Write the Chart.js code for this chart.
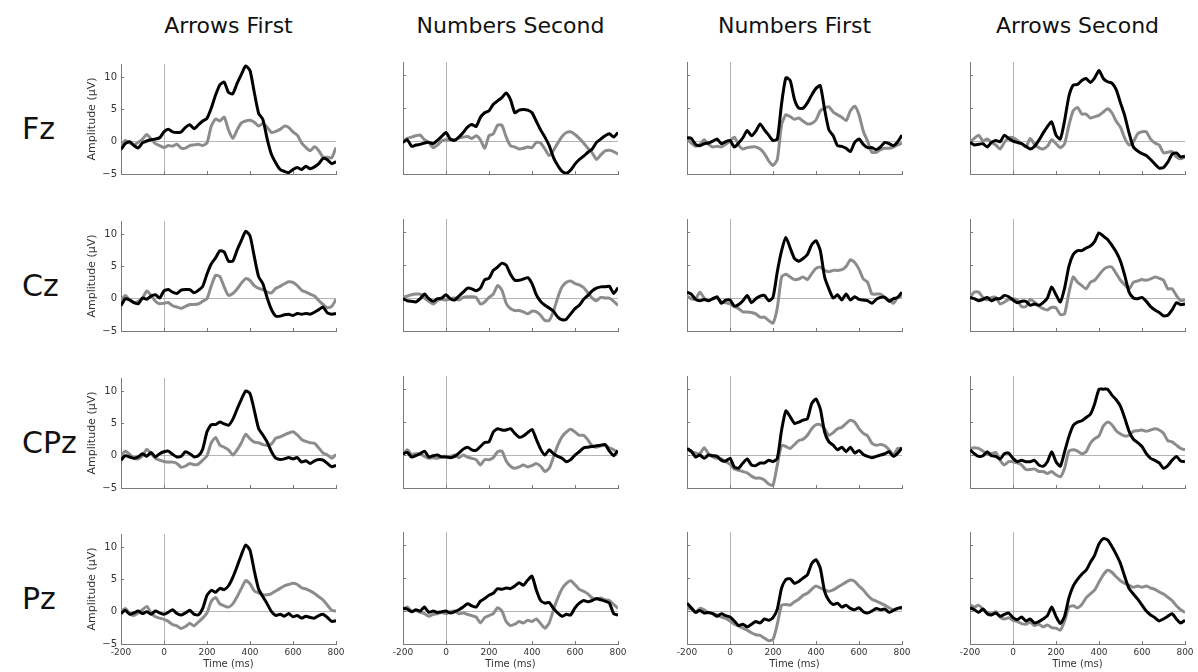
<!DOCTYPE html>
<html>
<head>
<meta charset="utf-8">
<script src="https://cdn.jsdelivr.net/npm/chart.js@4.4.1/dist/chart.umd.min.js"></script>
<style>
  html, body { margin: 0; padding: 0; background: #ffffff; }
  body { width: 1198px; height: 672px; position: relative; overflow: hidden; font-family: "DejaVu Sans", sans-serif; }
  .colTitle { position: absolute; top: 25px; font-size: 22px; color: #111; transform: translate(-50%, -50%); white-space: nowrap; }
  .rowTitle { position: absolute; left: 22px; font-size: 30px; color: #111; transform: translateY(-50%); white-space: nowrap; }
  canvas { position: absolute; }
</style>
</head>
<body>
<script>
// Time axis (ms) and tick values
const timeMs = [-200,-180,-160,-140,-120,-100,-80,-60,-40,-20,0,20,40,60,80,100,120,140,160,180,200,220,240,260,280,300,320,340,360,380,400,420,440,460,480,500,520,540,560,580,600,620,640,660,680,700,720,740,760,780,800];
const timeTicks = [-200, 0, 200, 400, 600, 800];
const ampTicks = [-5, 0, 5, 10];

const blockNames = ['Arrows First', 'Numbers Second', 'Numbers First', 'Arrows Second'];
const electrodes = ['Fz', 'Cz', 'CPz', 'Pz'];

// Fz
const fzArrowsFirstDark = [-1.2,-0.3,0,-0.6,-1.0,-0.2,0.1,0.3,0.4,0.6, 1.5,1.9,1.5,1.4,1.5,2.2,2.6,2.0,2.6,3.2, 3.6,5.2,7.2,8.8,9.2,7.6,7.4,9.0,10.4,11.7, 11.0,7.6,4.4,3.4,0.4,-2.0,-3.3,-4.3,-4.6,-4.8, -4.3,-4.0,-4.3,-3.8,-4.2,-3.9,-3.4,-2.6,-2.8,-3.4, -3.1];
const fzArrowsFirstLight = [-0.9,0.2,-0.2,-0.5,-0.1,0.4,1.1,0.4,-0.3,-0.6, -0.9,-0.6,-0.7,-0.4,-1.0,-1.0,-0.6,-0.5,-0.4,-0.6, -0.2,2.4,3.5,3.2,3.8,1.8,0.5,1.8,2.9,3.2, 3.3,3.0,2.4,2.8,2.2,1.4,1.6,1.9,2.4,2.2, 1.5,1.0,-0.2,-0.9,-1.4,-0.8,-1.4,-2.4,-2.4,-2.5, -0.9];
const fzNumbersSecondDark = [-0.2,0.2,-0.8,-0.6,-0.5,-0.3,-0.2,-0.4,0.1,0.7, 1.3,0.3,0.1,0.6,1.3,2.1,2.5,2.2,3.6,4.3, 4.6,5.6,6.1,6.6,7.3,6.3,4.3,4.7,4.8,4.7, 4.3,3.0,1.7,0.6,-0.7,-2.5,-3.7,-4.6,-4.9,-4.4, -3.5,-2.8,-2.3,-1.7,-1.2,-0.2,0.3,0.8,1.1,0.6, 1.3];
const fzNumbersSecondLight = [-0.1,0.4,0.6,0.8,0.9,0.2,-0.2,-1.0,-0.6,0.0, 0.2,0.2,0.2,0.5,0.6,0.7,0.4,0.8,0.2,-1.1, 0.8,1.1,2.4,2.4,0.6,-0.7,-0.9,-1.2,-1.1,-0.9, -1.0,-0.2,-0.3,-1.2,-2.2,-1.4,-0.3,0.7,1.3,1.4, 1.0,0.4,-0.3,-1.1,-1.8,-2.8,-2.1,-1.5,-1.4,-1.6, -2.0];
const fzNumbersFirstDark = [0.5,0.4,-0.5,-0.7,-0.4,-0.3,0.0,0.3,-0.4,-0.1, 0.1,-0.9,-0.3,0.5,1.6,0.8,1.5,2.6,1.7,0.9, 0.1,0.3,5.7,9.6,9.2,6.3,5.0,5.0,5.8,7.0, 8.0,8.4,4.8,1.7,0.8,-0.7,-0.8,-1.1,-1.6,-0.2, 0.3,-0.5,-1.0,-1.0,-1.3,-0.9,-0.2,-0.4,-0.7,-0.1, 0.9];
const fzNumbersFirstLight = [0.3,-0.3,-0.8,-0.5,0.2,-0.5,-0.9,-0.8,-0.9,-0.5, 0.0,0.6,-0.6,-1.2,-1.0,-0.9,-0.9,-1.2,-1.9,-3.0, -3.7,-2.8,2.5,4.0,3.7,3.3,3.5,3.0,2.6,2.7, 3.2,4.6,5.0,5.2,4.4,4.0,3.6,3.1,4.6,5.3, 4.0,1.5,0.0,-1.7,-1.7,-1.3,-1.1,-1.1,-0.9,-0.6, -0.3];
const fzArrowsSecondDark = [-0.2,-0.6,-0.5,-0.4,-0.9,-0.2,0.1,-0.1,0.9,0.4, 0.0,-0.2,-0.4,-0.8,-1.2,-0.8,0.1,1.2,2.2,2.9, 0.9,0.3,3.1,6.8,8.5,8.6,9.2,9.5,8.9,9.6, 10.7,9.5,9.0,8.8,7.8,5.8,3.8,1.2,-0.9,-1.5, -1.9,-2.2,-2.8,-3.5,-4.1,-4.0,-3.2,-2.0,-1.8,-2.4, -2.3];
const fzArrowsSecondLight = [-0.1,0.4,0.9,0.0,0.3,-0.2,-0.6,-1.2,-0.2,0.5, 0.5,0.1,-0.4,-0.9,0.4,-0.5,-1.0,-1.2,-0.8,0.2, -0.4,-1.0,-0.4,2.4,4.6,5.1,4.1,4.1,3.5,3.7, 3.9,4.4,4.9,4.3,3.0,2.1,0.4,-0.6,-0.1,1.1, 1.4,1.4,0.3,-0.3,-0.6,-1.8,-1.7,-1.6,-2.4,-2.7, -2.4];

// Cz
const czArrowsFirstDark = [-1.1,0.0,-0.2,-0.6,-0.8,0.1,-0.1,0.4,0.6,0.1, 1.2,1.4,1.0,0.8,1.3,1.4,1.4,0.9,1.3,1.9, 3.8,5.4,6.3,7.4,7.2,5.8,5.8,7.5,9.0,10.4, 9.7,6.5,3.4,2.3,0.1,-1.7,-2.7,-2.7,-2.5,-2.4, -2.6,-2.3,-2.4,-2.3,-2.4,-2.1,-1.7,-1.3,-2.2,-2.4, -2.3];
const czArrowsFirstLight = [-0.3,0.5,-0.2,-0.6,-0.4,0.1,1.2,0.5,-0.4,-0.8, -0.7,-0.6,-1.1,-1.3,-1.5,-1.2,-0.9,-0.9,-0.8,-0.4, 0.0,2.0,3.6,3.4,1.8,0.5,0.8,1.5,2.4,3.1, 2.8,2.0,1.6,1.4,1.0,0.9,1.6,1.9,2.3,2.6, 2.5,2.0,1.3,1.0,0.7,0.4,-0.3,-0.9,-1.4,-1.2, -0.1];
const czNumbersSecondDark = [-0.1,-0.4,-0.5,-0.6,-0.1,0.6,-0.1,-0.5,-0.1,0.0, 0.5,-0.1,-0.3,0.3,0.9,1.5,1.4,1.1,1.5,2.8, 3.0,4.2,4.7,5.3,5.0,3.6,2.7,2.7,2.9,3.1, 2.2,0.5,-0.5,-1.1,-1.5,-2.0,-2.9,-3.3,-3.2,-2.4, -1.6,-1.1,-0.2,0.4,1.1,1.5,1.7,1.7,1.8,0.7, 1.6];
const czNumbersSecondLight = [0.1,0.3,0.5,0.6,0.6,0.0,-0.5,-0.9,-0.4,-0.2, -0.3,-0.1,0.0,-0.3,0.1,0.2,0.2,0.1,-0.9,-0.6, 0.1,0.6,1.9,1.2,-0.8,-1.6,-1.9,-1.9,-2.1,-2.4, -2.0,-2.1,-2.6,-3.4,-3.4,-2.0,0.1,1.7,2.4,2.6, 2.2,2.0,1.6,0.8,0.0,-0.4,0.1,0.0,0.0,-0.5, -1.1];
const czNumbersFirstDark = [0.9,0.6,-0.2,-0.4,-0.2,-0.4,-0.1,0.2,-0.8,-0.3, -0.3,-1.2,-1.0,-0.4,0.4,-0.7,-0.1,0.3,0.4,-0.4, 0.1,4.0,7.2,9.2,7.6,6.0,5.6,6.0,6.6,8.1, 8.7,7.2,3.2,1.4,0.0,0.5,-0.3,0.6,-0.3,0.2, -0.2,-0.3,-0.4,-0.8,-0.2,0.1,0.1,-0.5,-0.1,0.1, 0.9];
const czNumbersFirstLight = [0.3,-0.1,-0.1,0.9,0.0,-0.4,-0.1,0.0,-0.6,-0.7, -0.9,-1.3,-1.6,-2.1,-2.1,-2.2,-2.4,-2.9,-2.9,-3.4, -3.8,-1.5,3.2,3.6,3.2,2.8,2.9,3.2,2.8,3.7, 4.5,4.7,4.2,4.0,4.2,4.2,4.3,4.8,5.8,5.4, 4.4,2.9,2.4,0.6,0.6,0.6,0.1,-0.3,-0.8,0.1, 0.3];
const czArrowsSecondDark = [0.1,-0.1,-0.4,-0.2,0.1,-0.4,-0.1,-0.1,0.4,0.2, -0.3,-0.7,-0.5,-0.5,-1.1,-0.9,-1.1,-0.7,0.0,1.7, 0.5,-0.6,1.5,4.8,6.6,7.2,7.2,7.6,7.9,8.6, 9.9,9.4,8.9,8.0,7.0,5.6,3.4,0.9,0.0,-0.1, 0.1,-0.5,-1.3,-1.8,-2.2,-2.7,-2.6,-1.8,-0.7,-1.0, -0.9];
const czArrowsSecondLight = [0.1,0.9,0.9,0.1,-0.3,0.1,0.1,-0.9,-0.6,-0.2, -0.1,-0.3,-1.3,-1.3,-0.2,-0.6,-1.2,-1.6,-1.8,-1.4, -1.5,-2.5,-2.4,0.8,3.2,2.4,1.9,1.4,2.4,2.7, 3.5,4.3,4.7,4.7,3.7,2.7,2.0,1.4,2.4,2.6, 2.8,2.7,2.9,3.2,3.0,2.7,1.4,1.4,0.4,-0.4, -0.3];

// CPz
const cpzArrowsFirstDark = [-0.7,0.0,-0.2,-0.4,-0.2,0.3,-0.1,0.5,-0.2,0.3, 0.6,0.7,0.2,-0.2,-0.1,0.6,0.3,-0.2,0.0,1.0, 3.7,4.8,4.8,5.2,4.9,4.7,5.6,7.2,8.7,10.0, 9.6,7.0,4.2,3.2,2.1,0.6,-0.4,-0.6,-0.5,-0.3, -0.5,-0.3,-1.0,-0.8,-1.2,-0.8,-0.6,-0.7,-1.2,-1.7, -1.5];
const cpzArrowsFirstLight = [0.0,0.7,0.2,-0.4,-0.5,0.0,1.0,0.3,-0.4,-0.7, -0.9,-1.0,-1.0,-1.2,-1.8,-1.6,-1.2,-1.4,-1.3,-0.7, 0.0,2.0,2.8,1.6,1.3,0.9,0.1,0.9,2.0,3.3, 2.6,2.1,2.0,1.7,1.6,1.8,2.7,2.9,3.2,3.5, 3.7,3.2,2.5,2.2,2.0,1.9,1.2,0.4,0.1,-0.4, 0.2];
const cpzNumbersSecondDark = [0.2,0.4,-0.3,-0.1,0.2,0.6,-0.3,-0.1,0.0,-0.3, -0.3,-0.4,-0.2,0.3,0.9,1.2,0.8,0.7,1.3,1.9, 2.0,3.5,4.0,3.8,3.8,4.0,3.3,2.7,2.9,3.4, 3.9,2.4,0.9,0.0,0.8,0.2,-0.2,-0.5,-1.0,-0.7, 0.0,0.5,1.1,1.2,1.3,1.4,1.5,1.6,0.6,-0.1, 0.7];
const cpzNumbersSecondLight = [0.1,0.8,0.1,0.2,0.2,-0.2,-0.5,-0.4,-0.5,-0.2, -0.2,-0.2,0.0,-0.4,0.0,-0.3,-0.5,-0.7,-1.5,-0.7, -0.7,-0.4,0.5,0.6,-0.9,-1.7,-2.0,-1.8,-1.5,-1.8, -1.6,-1.3,-1.7,-2.5,-2.0,-0.3,1.5,2.8,3.5,3.9, 3.5,3.0,3.0,2.3,1.4,1.2,1.4,1.5,1.1,0.8, 0.3];
const cpzNumbersFirstDark = [1.0,0.6,-0.3,0.0,-0.5,0.0,-0.1,-0.2,-0.8,-0.9, -0.5,-1.8,-2.0,-1.2,-0.6,-1.5,-1.6,-1.2,-1.2,-0.8, -1.0,-0.5,3.8,6.7,5.8,4.8,5.0,5.3,5.5,7.8, 8.5,7.0,3.5,2.0,1.5,0.8,1.2,0.5,1.2,0.3, 0.7,0.1,-0.2,-0.4,-0.2,0.0,0.2,0.5,-0.2,0.3, 1.1];
const cpzNumbersFirstLight = [0.9,0.5,0.3,0.2,1.1,0.2,-0.3,-0.5,-0.6,-1.0, -1.4,-2.1,-2.3,-2.5,-2.7,-3.2,-3.5,-3.5,-3.8,-4.4, -4.6,-1.5,1.5,1.3,1.0,1.6,2.2,2.4,3.0,4.0, 4.6,4.6,4.0,3.0,3.4,4.0,4.2,4.8,5.3,5.0, 4.0,3.3,2.9,1.8,1.5,1.6,1.4,0.8,0.0,1.0, 1.0];
const cpzArrowsSecondDark = [0.8,0.2,-0.2,-0.1,0.5,-0.1,-0.2,-0.6,0.2,0.3, -0.5,-1.0,-0.8,-1.0,-1.0,-0.8,-1.5,-1.7,-1.0,0.5, -1.0,-1.7,0.5,2.8,4.5,5.0,5.2,5.7,6.2,7.8, 10.0,10.0,10.0,9.1,8.4,7.4,5.6,3.6,2.4,1.9, 1.3,0.2,-0.5,-0.8,-1.2,-2.0,-1.6,-0.8,-0.2,-0.9, -1.0];
const cpzArrowsSecondLight = [1.0,1.1,1.0,0.6,0.1,0.2,0.4,-0.8,-1.5,-1.0, -1.0,-1.2,-1.5,-2.2,-2.2,-2.1,-2.5,-2.5,-2.8,-2.5, -3.0,-3.3,-2.0,0.6,0.8,0.6,0.2,0.5,1.8,2.5, 2.9,4.4,5.0,4.6,3.7,3.2,2.9,3.0,3.6,3.7, 3.8,3.6,3.8,4.0,3.8,3.3,2.2,2.0,1.5,1.0, 0.8];

// Pz
const pzArrowsFirstDark = [-0.3,0.2,-0.4,-0.2,0.1,-0.3,0.0,-0.4,0.1,-0.2, -0.4,-0.1,0.3,-0.3,-0.5,-0.2,0.2,-0.4,-0.5,0.5, 2.5,3.3,3.0,3.6,3.4,4.0,5.3,7.0,8.8,10.3, 9.5,6.3,3.5,2.3,1.2,0.0,-0.6,-0.4,-0.7,-0.3, -0.8,-0.6,-1.0,-0.7,-0.9,-1.0,-0.6,-0.4,-0.9,-1.5, -1.4];
const pzArrowsFirstLight = [0.0,0.5,-0.3,-0.6,-0.2,0.3,0.8,-0.2,-0.8,-1.0, -1.2,-1.5,-2.0,-2.2,-2.6,-2.3,-1.8,-2.2,-1.6,-1.0, -0.2,1.6,2.2,1.2,0.9,0.7,1.2,2.3,3.6,4.8, 4.3,3.2,2.9,2.6,2.6,2.8,3.2,3.6,4.0,4.2, 4.4,4.2,3.7,3.5,3.2,2.8,2.3,1.8,1.0,0.2, 0.1];
const pzNumbersSecondDark = [0.4,0.3,-0.1,0.2,0.0,0.6,-0.2,0.0,-0.2,-0.1, 0.0,-0.3,-0.1,0.2,0.6,1.1,0.8,0.6,1.5,1.9, 2.4,2.7,3.4,3.3,3.5,3.4,3.8,4.3,3.9,4.7, 5.3,3.2,1.6,1.2,1.3,0.4,-0.3,-0.8,-0.5,-0.6, 0.5,1.2,1.6,1.4,1.6,1.9,1.7,1.5,1.2,-0.4, -0.6];
const pzNumbersSecondLight = [0.2,0.6,0.0,0.1,-0.2,-0.4,-0.8,-0.5,-0.4,-0.2, -0.4,-0.1,0.0,-0.4,-0.3,-0.5,-0.7,-0.9,-1.8,-1.0, -0.7,-0.4,0.5,0.0,-1.6,-2.2,-2.0,-1.6,-1.8,-1.4, -1.6,-1.2,-1.9,-2.6,-1.8,0.2,2.0,3.4,4.2,4.6, 4.0,3.3,3.0,2.6,2.0,1.8,2.0,1.7,1.6,1.0, 0.4];
const pzNumbersFirstDark = [1.2,0.5,-0.2,0.1,-0.3,-0.2,-0.4,-0.8,-0.4,-0.7, -0.9,-1.5,-2.2,-2.0,-2.4,-2.0,-1.6,-1.8,-1.2,-1.4, -1.0,0.3,3.5,4.8,4.9,4.2,4.5,5.0,5.5,7.2, 7.8,6.5,3.0,1.6,1.0,1.2,0.6,0.9,0.4,0.2, 0.5,-0.1,-0.3,0.0,0.4,0.2,0.3,-0.2,0.1,0.4, 0.6];
const pzNumbersFirstLight = [0.5,0.3,-0.2,0.4,0.2,-0.3,-0.4,-0.6,-0.9,-1.1, -1.5,-2.0,-2.3,-2.6,-2.9,-3.3,-3.6,-3.7,-4.1,-4.5, -4.3,-2.0,0.9,1.0,0.9,1.4,1.8,2.4,2.7,3.3, 3.8,3.5,3.2,3.0,3.2,3.6,4.0,4.4,4.7,4.5, 3.8,3.2,2.4,1.8,1.5,1.2,0.9,0.5,0.2,0.4, 0.4];
const pzArrowsSecondDark = [0.5,0.2,-0.2,0.3,-0.4,-0.6,-0.3,-0.8,-0.5,-0.3, -1.0,-1.3,-0.9,-1.5,-1.2,-1.8,-1.6,-1.2,-0.7,0.6, -0.8,-1.9,-0.8,2.0,3.8,4.8,5.6,6.2,7.4,8.5, 10.2,11.0,10.8,9.8,8.6,7.2,5.2,3.4,2.6,1.8, 0.9,0.0,-0.6,-1.0,-1.5,-1.2,-0.8,-0.4,-1.2,-1.8, -1.4];
const pzArrowsSecondLight = [1.0,0.6,0.9,0.3,-0.2,-0.4,-0.1,-0.9,-1.2,-1.0, -1.4,-1.6,-1.9,-2.0,-1.7,-2.2,-2.0,-2.4,-2.1,-2.5, -2.6,-2.9,-1.5,0.6,0.8,0.5,1.0,2.0,2.6,3.2, 4.4,5.5,6.2,5.9,5.2,4.6,4.2,3.9,3.6,3.8, 3.6,3.8,3.5,3.3,2.9,2.6,2.1,1.6,0.8,0.2, -0.2];

// Panel grid: [row][col] -> [dark series, light series]
const panelSeries = [
  [[fzArrowsFirstDark, fzArrowsFirstLight], [fzNumbersSecondDark, fzNumbersSecondLight], [fzNumbersFirstDark, fzNumbersFirstLight], [fzArrowsSecondDark, fzArrowsSecondLight]],
  [[czArrowsFirstDark, czArrowsFirstLight], [czNumbersSecondDark, czNumbersSecondLight], [czNumbersFirstDark, czNumbersFirstLight], [czArrowsSecondDark, czArrowsSecondLight]],
  [[cpzArrowsFirstDark, cpzArrowsFirstLight], [cpzNumbersSecondDark, cpzNumbersSecondLight], [cpzNumbersFirstDark, cpzNumbersFirstLight], [cpzArrowsSecondDark, cpzArrowsSecondLight]],
  [[pzArrowsFirstDark, pzArrowsFirstLight], [pzNumbersSecondDark, pzNumbersSecondLight], [pzNumbersFirstDark, pzNumbersFirstLight], [pzArrowsSecondDark, pzArrowsSecondLight]]
];

// Page layout (plot-area boxes)
const plotLefts = [121, 403, 687, 970];
const plotTops = [62, 219, 376, 532];
const plotW = 215, plotH = 112;
const yAxisW = 35, xAxisH = 26, padTop = 8, padRight = 12;

const AXIS_COLOR = '#7a7a7a';
const ZERO_COLOR = '#b4b4b4';
const TEXT_COLOR = '#333333';

const zeroGrid = (c) => (c.tick && c.tick.value === 0) ? ZERO_COLOR : 'rgba(0,0,0,0)';
const fmtNum = (v) => v < 0 ? '\u2212' + Math.abs(v) : String(v);

// Short tick marks pointing into the plot area
const inwardTicks = {
  id: 'inwardTicks',
  beforeDatasetsDraw(chart) {
    const { ctx, chartArea: a, scales } = chart;
    ctx.save();
    ctx.strokeStyle = AXIS_COLOR;
    ctx.lineWidth = 1;
    ctx.beginPath();
    ampTicks.forEach(v => {
      const py = Math.round(scales.y.getPixelForValue(v)) + 0.5;
      ctx.moveTo(a.left, py); ctx.lineTo(a.left + 3, py);
    });
    timeTicks.forEach(v => {
      const px = Math.round(scales.x.getPixelForValue(v)) + 0.5;
      ctx.moveTo(px, a.bottom); ctx.lineTo(px, a.bottom - 3);
    });
    ctx.stroke();
    ctx.restore();
  }
};

function toPoints(values) {
  return timeMs.map((t, i) => ({ x: t, y: values[i] }));
}

function makePanel(row, col) {
  const canvas = document.createElement('canvas');
  const w = yAxisW + plotW + padRight;
  const h = padTop + plotH + xAxisH;
  canvas.width = w; canvas.height = h;
  canvas.style.left = (plotLefts[col] - yAxisW) + 'px';
  canvas.style.top = (plotTops[row] - padTop) + 'px';
  canvas.style.width = w + 'px'; canvas.style.height = h + 'px';
  document.body.appendChild(canvas);

  const showY = col === 0;
  const showX = row === 3;
  const [dark, light] = panelSeries[row][col];

  new Chart(canvas, {
    type: 'line',
    data: {
      datasets: [
        { data: toPoints(dark), borderColor: '#000000', borderWidth: 3, pointRadius: 0, tension: 0.2, fill: false, borderJoinStyle: 'round' },
        { data: toPoints(light), borderColor: '#8c8c8c', borderWidth: 3, pointRadius: 0, tension: 0.2, fill: false, borderJoinStyle: 'round' }
      ]
    },
    options: {
      responsive: false,
      animation: false,
      events: [],
      devicePixelRatio: 1,
      layout: { padding: { top: padTop, right: padRight, left: 0, bottom: 0 } },
      plugins: { legend: { display: false }, tooltip: { enabled: false } },
      scales: {
        x: {
          type: 'linear', min: -200, max: 800,
          afterBuildTicks: (s) => { s.ticks = timeTicks.map(v => ({ value: v })); },
          afterFit: (s) => { s.height = xAxisH; },
          border: { display: true, color: AXIS_COLOR, width: 1 },
          grid: { drawTicks: false, color: zeroGrid, lineWidth: 1 },
          ticks: { display: showX, padding: 3, maxRotation: 0, autoSkip: false, color: TEXT_COLOR,
                   font: { family: 'DejaVu Sans', size: 9 }, callback: (v) => String(v) },
          title: { display: showX, text: 'Time (ms)', color: TEXT_COLOR, padding: 0,
                   font: { family: 'DejaVu Sans', size: 10 } }
        },
        y: {
          min: -5, max: 12,
          afterBuildTicks: (s) => { s.ticks = ampTicks.map(v => ({ value: v })); },
          afterFit: (s) => { s.width = yAxisW; },
          border: { display: true, color: AXIS_COLOR, width: 1 },
          grid: { drawTicks: false, color: zeroGrid, lineWidth: 1 },
          ticks: { display: showY, padding: 4, color: TEXT_COLOR,
                   font: { family: 'DejaVu Sans', size: 10 }, callback: fmtNum },
          title: { display: showY, text: 'Amplitude (\u00b5V)', color: TEXT_COLOR, padding: 0,
                   font: { family: 'DejaVu Sans', size: 11 } }
        }
      }
    },
    plugins: [inwardTicks]
  });
}

// Column and row headings
blockNames.forEach((name, c) => {
  const d = document.createElement('div');
  d.className = 'colTitle';
  d.textContent = name;
  d.style.left = (plotLefts[c] + plotW / 2) + 'px';
  document.body.appendChild(d);
});
electrodes.forEach((name, r) => {
  const d = document.createElement('div');
  d.className = 'rowTitle';
  d.textContent = name;
  d.style.top = (plotTops[r] + 66) + 'px';
  document.body.appendChild(d);
});

for (let r = 0; r < 4; r++) {
  for (let c = 0; c < 4; c++) makePanel(r, c);
}
</script>
</body>
</html>
